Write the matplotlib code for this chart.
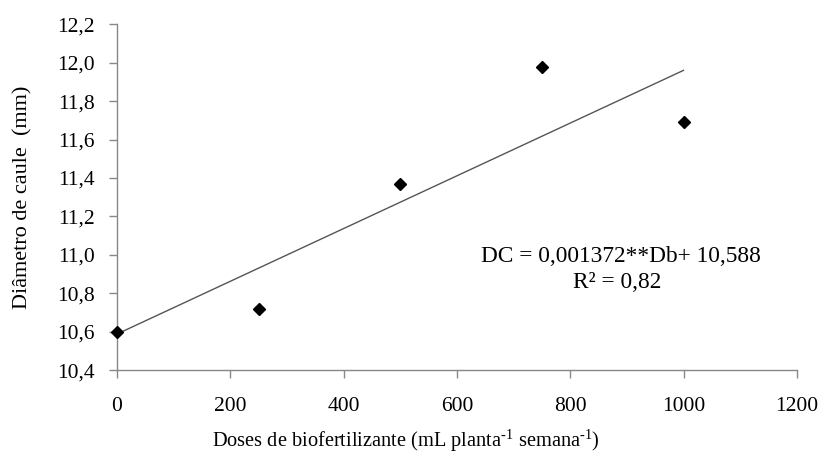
import matplotlib
matplotlib.use("Agg")
import matplotlib.pyplot as plt
import numpy as np

# Observed means of stem diameter per biofertilizer dose
doses = [0, 250, 500, 750, 1000]
diameter = [10.60, 10.72, 11.37, 11.98, 11.69]

# Fitted linear model DC = a*Db + b
slope = 0.001372
intercept = 10.588
r2 = 0.82

x_ticks = [0, 200, 400, 600, 800, 1000, 1200]
y_ticks = [10.4, 10.6, 10.8, 11.0, 11.2, 11.4, 11.6, 11.8, 12.0, 12.2]

plt.rcParams["font.family"] = ["Liberation Serif", "DejaVu Serif"]
plt.rcParams["mathtext.fontset"] = "custom"
plt.rcParams["mathtext.rm"] = "Liberation Serif"
plt.rcParams["mathtext.it"] = "Liberation Serif:italic"

fig = plt.figure(figsize=(8.24, 4.57), dpi=100)
ax = fig.add_axes([0.142, 0.190, 0.825, 0.757])

# Regression line over the dose range
fit_x = np.array([doses[0], doses[-1]])
ax.plot(fit_x, slope * fit_x + intercept, color="#555555", lw=1.0, zorder=2)
ax.plot(doses, diameter, linestyle="none", marker="D", markersize=6.5,
        color="black", zorder=3, clip_on=False)

ax.set_xlim(0, 1200)
ax.set_ylim(10.4, 12.2)
ax.set_xticks(x_ticks)
ax.set_yticks(y_ticks)
ax.set_xticklabels([str(v) for v in x_ticks])
ax.set_yticklabels([f"{v:.1f}".replace(".", ",") for v in y_ticks])

for side in ("top", "right"):
    ax.spines[side].set_visible(False)
for side in ("left", "bottom"):
    ax.spines[side].set_color("#888888")
    ax.spines[side].set_linewidth(1.0)

ax.tick_params(axis="both", direction="out", length=6, width=1.0,
               color="#888888", labelsize=15.5, labelcolor="black")
ax.tick_params(axis="y", pad=10)
ax.tick_params(axis="x", pad=13)

fig.text(0.028, 0.569, "Diâmetro de caule  (mm)", rotation=90,
         ha="center", va="center", fontsize=16)
fig.text(0.493, 0.035,
         r"Doses de biofertilizante (mL planta$^{\text{-1}}$ semana$^{\text{-1}}$)",
         ha="center", va="center", fontsize=14.7)

eq = f"DC = {slope:.6f}**Db+ {intercept:.3f}".replace(".", ",")
fig.text(0.754, 0.438, eq, ha="center", va="center", fontsize=16.8)
fig.text(0.749, 0.381, f"R² = {r2:.2f}".replace(".", ","),
         ha="center", va="center", fontsize=16.8)

fig.savefig("out.png", dpi=100, facecolor="white")
